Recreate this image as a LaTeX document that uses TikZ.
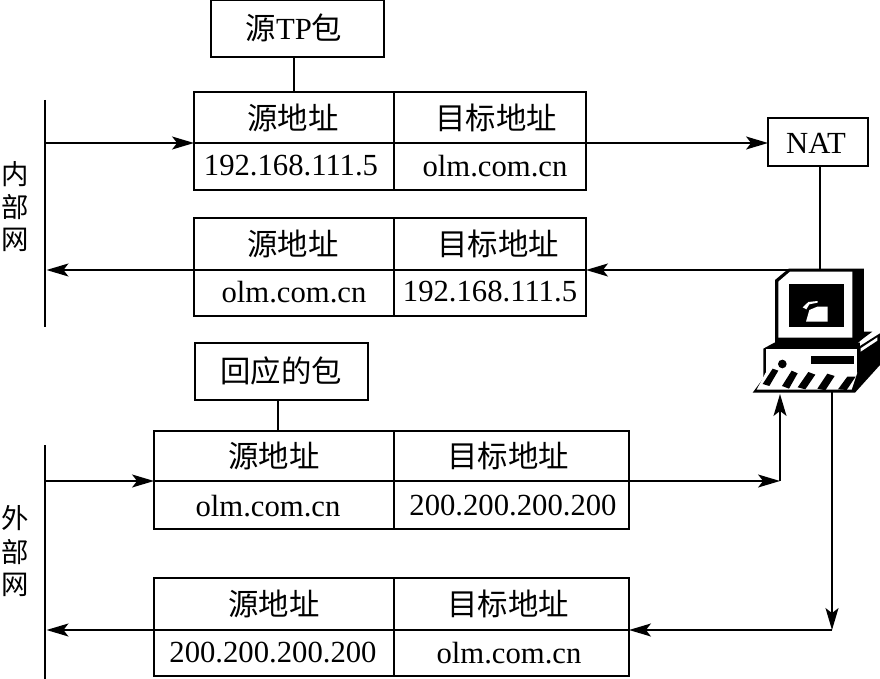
\documentclass[tikz,border=0pt]{standalone}
\usepackage{fontspec}
\setmainfont{Liberation Serif}
\newfontfamily\cjk{Noto Sans CJK SC}
\usetikzlibrary{arrows.meta}
\newcommand{\zh}[1]{{\cjk\fontsize{30.5}{32}\selectfont #1}}
\newcommand{\zhs}[1]{{\cjk\fontsize{27.5}{30}\selectfont #1}}
\newcommand{\lat}[1]{{\fontsize{30.8}{32}\selectfont #1}}
\tikzset{
  cellbox/.style={draw=black,line width=2pt,inner sep=0pt,outer sep=0pt,anchor=north west},
  plainbox/.style={draw=black,line width=2pt,inner sep=0pt,outer sep=0pt,anchor=north west},
  wire/.style={draw=black,line width=1.6pt},
  arrowline/.style={wire,-{Stealth[length=22pt,width=13pt,inset=5pt]}},
  bus/.style={draw=black,line width=3pt},
  celltext/.style={inner sep=0pt},
  vlabel/.style={inner sep=0pt}
}
% prefix, x0, xdiv, x1, ytop, ymid, ybot
\newcommand{\pkt}[7]{%
  \node[cellbox,minimum width=(#3-#2)*1bp,minimum height=(#6-#5)*1bp] (#1a) at (#2,#5) {};
  \node[cellbox,minimum width=(#4-#3)*1bp,minimum height=(#6-#5)*1bp] (#1b) at (#3,#5) {};
  \node[cellbox,minimum width=(#3-#2)*1bp,minimum height=(#7-#6)*1bp] (#1c) at (#2,#6) {};
  \node[cellbox,minimum width=(#4-#3)*1bp,minimum height=(#7-#6)*1bp] (#1d) at (#3,#6) {};
}
\begin{document}
\begin{tikzpicture}[x=1bp,y=-1bp]
\useasboundingbox (0,0) rectangle (880,679);
\fill[white] (0,0) rectangle (880,679);

% free ends
\coordinate (busAtop) at (45,100);
\coordinate (busAbot) at (45,327);
\coordinate (busBtop) at (45,445);
\coordinate (busBbot) at (45,679);
\coordinate (busAin) at (45,143);
\coordinate (busAout) at (46.5,270);
\coordinate (busBin) at (45,481);
\coordinate (busBout) at (46.5,630);
\coordinate (pctop) at (820,270);
\coordinate (pcleft) at (790,270);
\coordinate (pcin) at (780,394);
\coordinate (pcout) at (832,392);
\coordinate (elbowin) at (780,481);
\coordinate (elbowout) at (832,630);
\coordinate (respdrop) at (278,400);

% packet tables
\pkt{t}{194}{394}{586}{92}{143}{190}
\pkt{u}{194}{394}{586}{218}{270}{316}
\pkt{v}{154}{394}{629}{431}{481}{529}
\pkt{w}{154}{394}{629}{578}{630}{676}

% table 1
\node[celltext] (t1) at (293,118) {\zh{源地址}};
\node[celltext] (t2) at (496,118) {\zh{目标地址}};
\node[celltext] (t3) at (291,166) {\lat{192.168.111.5}};
\node[celltext] (t4) at (495,166) {\lat{olm.com.cn}};
% table 2
\node[celltext] (u1) at (293,244) {\zh{源地址}};
\node[celltext] (u2) at (498,244) {\zh{目标地址}};
\node[celltext] (u3) at (294,292) {\lat{olm.com.cn}};
\node[celltext] (u4) at (490,292) {\lat{192.168.111.5}};
% table 3
\node[celltext] (v1) at (274,456) {\zh{源地址}};
\node[celltext] (v2) at (508,456) {\zh{目标地址}};
\node[celltext] (v3) at (268,506) {\lat{olm.com.cn}};
\node[celltext] (v4) at (513,506) {\lat{200.200.200.200}};
% table 4
\node[celltext] (w1) at (274,604) {\zh{源地址}};
\node[celltext] (w2) at (508,604) {\zh{目标地址}};
\node[celltext] (w3) at (273,653) {\lat{200.200.200.200}};
\node[celltext] (w4) at (509,653) {\lat{olm.com.cn}};

% header boxes
\node[plainbox,minimum width=173bp,minimum height=57bp] (src) at (211,0) {};
\node[celltext] (srct) at (294,28) {\zh{源}\lat{TP}\zh{包}};
\node[plainbox,minimum width=173bp,minimum height=57bp] (resp) at (195,343) {};
\node[celltext] (respt) at (281,371) {\zh{回应的包}};
\node[plainbox,minimum width=100bp,minimum height=48bp] (nat) at (768,118) {};
\node[celltext] (natt) at (816,143) {\lat{NAT}};

% side labels
\node[vlabel] (i1) at (15,174) {\zhs{内}};
\node[vlabel] (i2) at (15,207) {\zhs{部}};
\node[vlabel] (i3) at (15,240) {\zhs{网}};
\node[vlabel] (o1) at (15,518) {\zhs{外}};
\node[vlabel] (o2) at (15,552) {\zhs{部}};
\node[vlabel] (o3) at (15,585) {\zhs{网}};

% buses
\draw[bus] (busAtop) -- (busAbot);
\draw[bus] (busBtop) -- (busBbot);

% connectors
\draw[wire] (src.south -| srct) -- (ta.north -| srct);
\draw[wire] (respdrop) -- (va.north -| respdrop);
\draw[arrowline] (busAin) -- (ta.south west);
\draw[arrowline] (tb.south east) -- (nat.west |- tb.south east);
\draw[wire] (nat.south -| pctop) -- (pctop);
\draw[arrowline] (pcleft) -- (ub.south east);
\draw[arrowline] (ua.south west) -- (busAout);
\draw[arrowline] (busBin) -- (va.south west);
\draw[arrowline] (vb.south east) -- (elbowin);
\draw[arrowline] (elbowin) -- (pcin);
\draw[arrowline] (pcout) -- (elbowout);
\draw[arrowline] (elbowout) -- (wb.south east);
\draw[arrowline] (wa.south west) -- (busBout);

% computer
\begin{scope}[shift={(740,250)},x=0.3333bp,y=-0.3333bp]
  % monitor
  \fill[black] (146,56) -- (372,56) -- (372,245) -- (397,245) -- (370,265) -- (340,290) -- (105,290) -- (105,90) -- cycle;
  \fill[white] (115,95) -- (150,65) -- (337,65) -- (337,263) -- (115,263) -- cycle;
  \fill[black] (146,102) rectangle (312,232);
  \fill[white] (198,215) -- (208,180) -- (232,170) -- (263,170) -- (263,215) -- cycle;
  \fill[white] (188,172) -- (205,156) -- (233,153) -- (233,158) -- (208,163) -- (199,178) -- cycle;
  % base
  \fill[black] (70,296) -- (103,278) -- (360,278) -- (360,288) -- (420,250) -- (420,345) -- (345,428) -- (38,428) -- (70,385) -- cycle;
  \fill[white] (77,298) -- (352,298) -- (352,370) -- (77,370) -- cycle;
  \fill[white] (77,368) -- (352,368) -- (335,419) -- (50,419) -- cycle;
  \fill[white] (362,295) -- (412,262) -- (412,272) -- (362,305) -- cycle;
  \fill[black] (213,319) rectangle (343,342);
  \fill[black] (127,342) circle (13);
  % keys
  \fill[black] (68,402) -- (98,356) -- (115,362) -- (88,408) -- cycle;
  \fill[black] (126,408) -- (155,362) -- (173,370) -- (147,416) -- cycle;
  \fill[black] (173,412) -- (205,366) -- (226,374) -- (196,418) -- cycle;
  \fill[black] (232,416) -- (262,371) -- (284,378) -- (256,421) -- cycle;
  \fill[black] (294,418) -- (322,380) -- (347,380) -- (320,420) -- cycle;
\end{scope}
\end{tikzpicture}
\end{document}
